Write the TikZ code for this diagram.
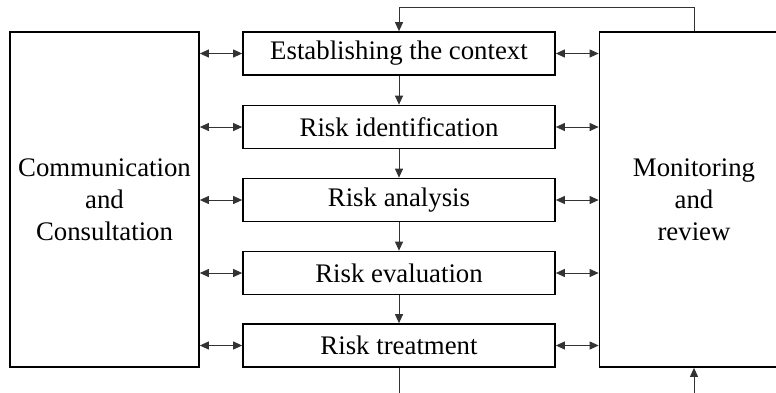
\documentclass[tikz,border=0pt]{standalone}
\usepackage{fontspec}
\setmainfont{Liberation Serif}
\usetikzlibrary{arrows.meta}
\begin{document}
\begin{tikzpicture}[x=0.5pt,y=-0.5pt,
  every node/.style={font=\fontsize{13.4}{16}\selectfont},
  stepbox/.style={draw=black,line width=0.85pt,minimum width=156pt,minimum height=21.5pt,inner sep=0pt},
  sidebox/.style={draw=black,line width=0.85pt,minimum width=94.5pt,minimum height=167.5pt,inner sep=0pt,align=center},
  conn/.style={draw=black!80,line width=0.5pt},
  tip/.style={-{Triangle[length=4.5pt,width=4pt]}},
  dtip/.style={{Triangle[length=4.5pt,width=4pt]}-{Triangle[length=4.5pt,width=4pt]}}
]
\clip (0,0) rectangle (776,392);
\node[sidebox] (cc) at (104.5,199.5) {Communication\\and\\Consultation};
\node[sidebox] (mr) at (694,199.5) {Monitoring\\and\\review};
\node[stepbox] (s1) at (399,53.5) {Establishing the context};
\node[stepbox] (s2) at (399,127) {Risk identification};
\node[stepbox] (s3) at (399,200) {Risk analysis};
\node[stepbox] (s4) at (399,273) {Risk evaluation};
\node[stepbox] (s5) at (399,345.5) {Risk treatment};
\foreach \a/\b in {s1/s2,s2/s3,s3/s4,s4/s5}
  \draw[conn,tip] (\a.south) -- (\b.north);
\foreach \s in {s1,s2,s3,s4,s5}{
  \draw[conn,dtip] (cc.east |- \s.west) -- (\s.west);
  \draw[conn,dtip] (\s.east) -- (mr.west |- \s.east);
}
\coordinate (t1) at (694,7);
\coordinate (t2) at (399,7);
\draw[conn,tip] (mr.north) -- (t1) -- (t2) -- (s1.north);
\coordinate (b1) at (399,420);
\coordinate (b2) at (694,420);
\draw[conn,tip] (s5.south) -- (b1) -- (b2) -- (mr.south);
\end{tikzpicture}
\end{document}
